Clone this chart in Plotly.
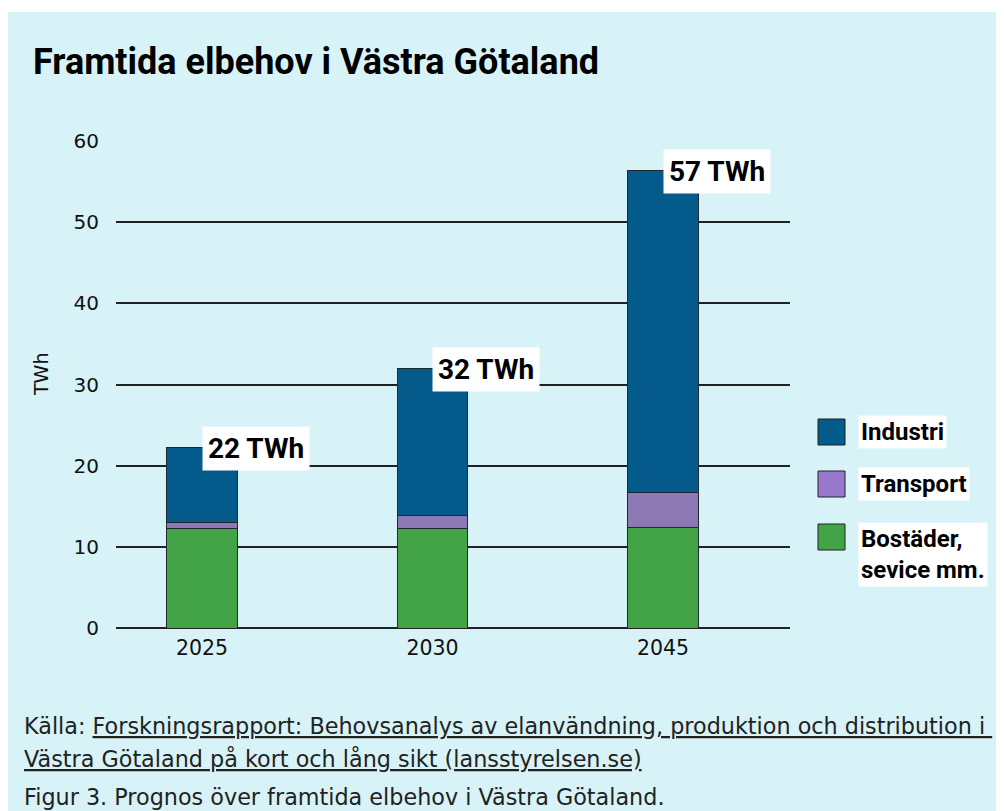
import plotly.graph_objects as go

# ---- data ----
years = ["2025", "2030", "2045"]
bostader = [12.2, 12.3, 12.4]
transport = [0.85, 1.5, 4.3]
industri = [9.25, 18.2, 39.7]
total_labels = ["22 TWh", "32 TWh", "57 TWh"]
series_names = ["Industri", "Transport", "Bostäder,<br>sevice mm."]
series_colors = ["#035A8B", "#8E78B4", "#43A447"]
legend_colors = ["#035A8B", "#9878CF", "#43A447"]
y_ticks = [0, 10, 20, 30, 40, 50, 60]

OFF = 8  # page body margin
W, H = 1004 - OFF, 811 - OFF
# plot area in screenshot pixels
SL, SR, ST, SB = 116, 790, 141, 628
L, R, T, B = SL - OFF, SR - OFF, ST - OFF, SB - OFF


def px(x):
    return (x - SL) / (SR - SL)


def py(y):
    return (SB - y) / (SB - ST)


BG = "#D8F3F8"
fig = go.Figure()
for name, vals, col in [("Bostäder", bostader, series_colors[2]),
                        ("Transport", transport, series_colors[1]),
                        ("Industri", industri, series_colors[0])]:
    fig.add_trace(go.Bar(x=years, y=vals, name=name, marker_color=col,
                         marker_line_color="#1f2a30", marker_line_width=1,
                         width=0.304, showlegend=False))

totals = [a + b + c for a, b, c in zip(bostader, transport, industri)]
annotations = []
for i, (t, lab) in enumerate(zip(totals, total_labels)):
    annotations.append(dict(x=i, y=t, xref="x", yref="y", text="<b>" + lab + "</b>",
                            showarrow=False, xanchor="left", yanchor="middle", yshift=-1,
                            bgcolor="white", borderpad=5,
                            font=dict(family="Roboto", size=28, color="black")))

# title
annotations.append(dict(x=px(31), y=py(62), xref="paper", yref="paper", xanchor="left",
                        yanchor="middle", showarrow=False,
                        text="<b>Framtida elbehov i Västra Götaland</b>",
                        font=dict(family="Roboto", size=36, color="black")))
# y title
annotations.append(dict(x=px(41), y=py(375), xref="paper", yref="paper", textangle=-90,
                        xanchor="center", yanchor="middle",
                        showarrow=False, text="TWh",
                        font=dict(family="DejaVu Sans", size=19, color="#111")))

# white strip at top
shapes = [dict(type="rect", xref="paper", yref="paper", x0=px(0), x1=px(1004), y0=py(12),
               y1=py(OFF), fillcolor="white", line_width=0, layer="below")]
leg_y = [432, 484, 537]
for name, col, yc in zip(series_names, legend_colors, leg_y):
    shapes.append(dict(type="rect", xref="paper", yref="paper", x0=px(818), x1=px(845),
                       y0=py(yc + 13), y1=py(yc - 13), fillcolor=col,
                       line=dict(color="#222", width=1)))
    two = "<br>" in name
    annotations.append(dict(x=px(858), y=py(yc - 15) if two else py(yc), xref="paper", yref="paper",
                            xanchor="left", yanchor="top" if two else "middle",
                            showarrow=False, align="left",
                            text="<b>" + name + "</b>", bgcolor="white", borderpad=2,
                            font=dict(family="Roboto", size=24, color="black")))

# captions
cap_font = dict(family="DejaVu Sans", size=22.3, color="#222")
captions = [
    (726, 'Källa: <span style="text-decoration:underline">Forskningsrapport: Behovsanalys av elanvändning, produktion och distribution i </span>'),
    (758, '<span style="text-decoration:underline">Västra Götaland på kort och lång sikt (lansstyrelsen.se)</span>'),
    (797, 'Figur 3. Prognos över framtida elbehov i Västra Götaland.'),
]
for yc, txt in captions:
    annotations.append(dict(x=px(22), y=py(yc), xref="paper", yref="paper", xanchor="left",
                            yanchor="middle", showarrow=False, text=txt, font=cap_font))

fig.update_layout(
    barmode="stack",
    width=W, height=H,
    margin=dict(l=L, r=W - R, t=T, b=H - B),
    paper_bgcolor=BG,
    plot_bgcolor="rgba(0,0,0,0)",
    showlegend=False,
    annotations=annotations,
    shapes=shapes,
    xaxis=dict(type="category", range=[-0.373, 2.551], showgrid=False, zeroline=False,
               showline=False, ticks="outside", ticklen=1, tickcolor="rgba(0,0,0,0)",
               tickfont=dict(family="DejaVu Sans", size=20.5, color="#111")),
    yaxis=dict(range=[0, 60], tickvals=y_ticks, showgrid=True, gridcolor="#222", gridwidth=1.5,
               zeroline=True, zerolinecolor="#222", zerolinewidth=1.5,
               ticks="outside", ticklen=12, tickcolor="rgba(0,0,0,0)",
               tickfont=dict(family="DejaVu Sans", size=20, color="#111")),
)
fig.write_html("out.html")
